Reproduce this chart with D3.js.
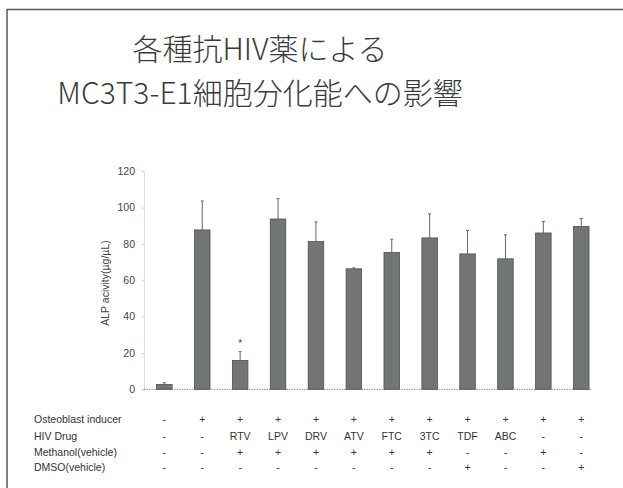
<!DOCTYPE html>
<html>
<head>
<meta charset="utf-8">
<script src="https://cdn.jsdelivr.net/npm/d3@7"></script>
<style>
  body { margin: 0; background: #fff; }
  svg text { font-family: "Liberation Sans", "Noto Sans", sans-serif; }
</style>
</head>
<body>
<script>
// 各種抗HIV薬 - ALP activity
var groups = ["ctrl", "ind", "RTV", "LPV", "DRV", "ATV", "FTC", "3TC", "TDF", "ABC", "MeOH", "DMSO"]
var alpValues = [2.7, 87.7, 15.9, 93.7, 81.3, 66.3, 75.3, 83.3, 74.5, 71.8, 86.0, 89.6]
var alpErrors = [0.9, 15.9, 4.8, 11.2, 10.8, 0.5, 7.3, 13.2, 12.9, 13.2, 6.3, 4.4]
var yTicks = [0, 20, 40, 60, 80, 100, 120]

var rowLabels = ["Osteoblast inducer", "HIV Drug", "Methanol(vehicle)", "DMSO(vehicle)"]
var inducerRow = ["-", "+", "+", "+", "+", "+", "+", "+", "+", "+", "+", "+"]
var drugRow = ["-", "-", "RTV", "LPV", "DRV", "ATV", "FTC", "3TC", "TDF", "ABC", "-", "-"]
var methanolRow = ["-", "-", "+", "+", "+", "+", "+", "+", "-", "-", "+", "-"]
var dmsoRow = ["-", "-", "-", "-", "-", "-", "-", "-", "+", "-", "-", "+"]
var significant = [false, false, true, false, false, false, false, false, false, false, false, false]

function drawChart(){

    var svg = d3.select("body")
                .append("svg")
                .attr("width", 623)
                .attr("height", 488)

    // slide frame
    svg.append("line").attr("x1", 7).attr("x2", 623).attr("y1", 9.5).attr("y2", 9.5)
       .attr("stroke", "#555").attr("stroke-width", 1.5)
    svg.append("line").attr("x1", 7).attr("x2", 7).attr("y1", 9).attr("y2", 488)
       .attr("stroke", "#555").attr("stroke-width", 1.5)

    // title
    var title = svg.append("text")
                   .attr("text-anchor", "middle")
                   .style("font-family", "'Noto Sans CJK JP', sans-serif")
                   .style("font-size", "30px")
                   .style("font-weight", "300")
                   .attr("fill", "#3a3a3a")
    title.append("tspan").attr("x", 260).attr("y", 60).text("各種抗HIV薬による")
    title.append("tspan").attr("x", 260).attr("y", 104).text("MC3T3-E1細胞分化能への影響")

    var xScale = d3.scaleBand()
                   .domain(groups)
                   .range([145.4, 600.2])
                   .paddingInner(0.59)
                   .paddingOuter(0.295)

    var yScale = d3.scaleLinear()
                   .domain([0, 120])
                   .range([389.3, 171.2])

    // y axis
    var yAxis = svg.append("g")
                   .attr("transform", "translate(144,0)")
                   .call(d3.axisLeft(yScale).tickValues(yTicks).tickSize(2).tickPadding(7))
    yAxis.select(".domain").attr("stroke", "#ddd")
    yAxis.selectAll(".tick line").attr("stroke", "#ccc")
    yAxis.selectAll("text").attr("fill", "#444").style("font-size", "10.5px")

    svg.append("text")
       .attr("transform", "translate(109,283) rotate(-90)")
       .attr("text-anchor", "middle")
       .attr("fill", "#444")
       .style("font-size", "10.5px")
       .text("ALP acivity(µg/µL)")

    // x axis line (dotted)
    svg.append("line")
       .attr("x1", 144).attr("x2", 592)
       .attr("y1", yScale(0)).attr("y2", yScale(0))
       .attr("stroke", "#888")
       .attr("stroke-dasharray", "1.5,1")

    var data = groups.map(function(g, i){
        return {key: g, value: alpValues[i], err: alpErrors[i], sig: significant[i]}
    })

    // error bars
    var errG = svg.selectAll(".err").data(data).enter().append("g").attr("class", "err")
    errG.append("line")
        .attr("x1", function(d){ return xScale(d.key) + xScale.bandwidth()/2 })
        .attr("x2", function(d){ return xScale(d.key) + xScale.bandwidth()/2 })
        .attr("y1", function(d){ return yScale(d.value) })
        .attr("y2", function(d){ return yScale(d.value + d.err) })
        .attr("stroke", "#666")
        .attr("stroke-width", 1)
    errG.append("line")
        .attr("x1", function(d){ return xScale(d.key) + xScale.bandwidth()/2 - 1.5 })
        .attr("x2", function(d){ return xScale(d.key) + xScale.bandwidth()/2 + 1.5 })
        .attr("y1", function(d){ return yScale(d.value + d.err) })
        .attr("y2", function(d){ return yScale(d.value + d.err) })
        .attr("stroke", "#666")
        .attr("stroke-width", 1)

    // bars
    svg.selectAll(".bar")
       .data(data)
       .enter()
       .append("rect")
       .attr("class", "bar")
       .attr("x", function(d){ return xScale(d.key) })
       .attr("y", function(d){ return yScale(d.value) })
       .attr("width", xScale.bandwidth())
       .attr("height", function(d){ return yScale(0) - yScale(d.value) })
       .attr("fill", "#717674")
       .attr("stroke", "#4d5250")
       .attr("stroke-width", 0.8)

    // significance
    svg.selectAll(".sig")
       .data(data.filter(function(d){ return d.sig }))
       .enter()
       .append("text")
       .attr("x", function(d){ return xScale(d.key) + xScale.bandwidth()/2 })
       .attr("y", function(d){ return yScale(d.value + d.err) - 5 })
       .attr("text-anchor", "middle")
       .attr("fill", "#444")
       .style("font-size", "10px")
       .text("*")

    // condition table
    var rows = [inducerRow, drugRow, methanolRow, dmsoRow]
    var rowY = [423, 439.5, 455.5, 471]
    rows.forEach(function(row, r){
        svg.append("text")
           .attr("x", 34).attr("y", rowY[r])
           .attr("fill", "#333")
           .style("font-size", "10.5px")
           .text(rowLabels[r])
        svg.selectAll(".cell" + r)
           .data(row)
           .enter()
           .append("text")
           .attr("class", "cell" + r)
           .attr("x", function(d, i){ return xScale(groups[i]) + xScale.bandwidth()/2 })
           .attr("y", rowY[r])
           .attr("text-anchor", "middle")
           .attr("fill", "#333")
           .style("font-size", "10.5px")
           .text(function(d){ return d })
    })
}

drawChart()
</script>
</body>
</html>
